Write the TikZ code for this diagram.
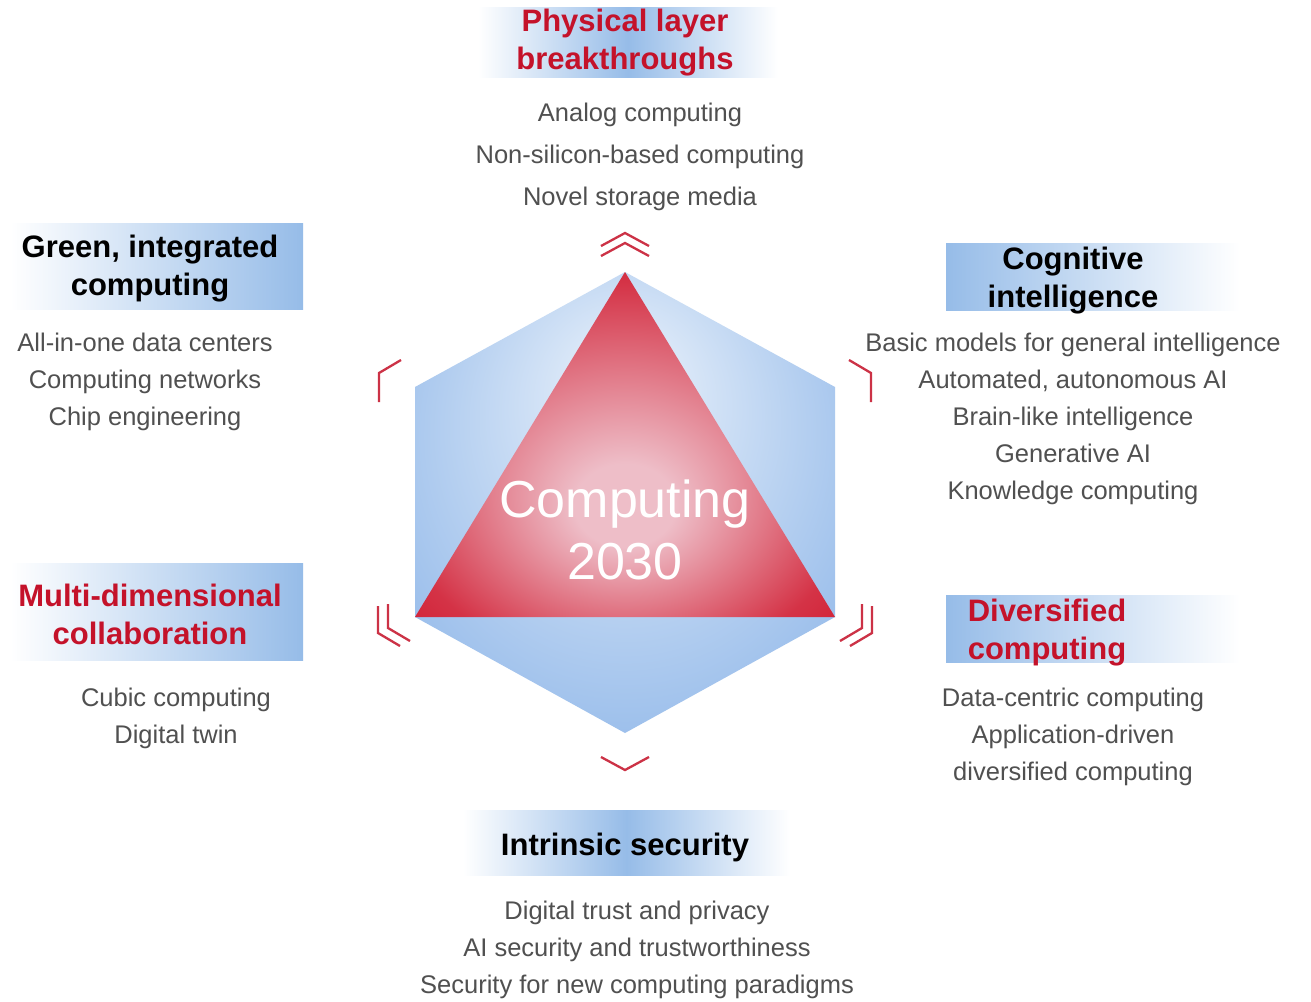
\documentclass[tikz,border=0pt]{standalone}
\usepackage{fontspec}
\setmainfont{Liberation Sans}
\usetikzlibrary{positioning}

\definecolor{hexblue}{RGB}{108,160,226}
\definecolor{hexpale}{RGB}{236,243,251}
\definecolor{trired}{RGB}{206,16,38}
\definecolor{tripink}{RGB}{238,190,200}
\definecolor{boxblue}{RGB}{150,188,232}
\definecolor{titlered}{RGB}{196,18,42}
\definecolor{itemgray}{RGB}{80,80,80}
\definecolor{chevred}{RGB}{204,50,70}

\pgfdeclareradialshading{hexglow}{\pgfpoint{0bp}{14bp}}{color(0bp)=(hexpale); color(22bp)=(hexpale!55!hexblue); color(50bp)=(hexblue)}
\pgfdeclareradialshading{triglow}{\pgfpoint{0bp}{-10bp}}{color(0bp)=(tripink); color(6bp)=(tripink); color(28bp)=(trired!80!tripink); color(42bp)=(trired); color(50bp)=(trired)}

\begin{document}
\begin{tikzpicture}[x=1pt, y=-1pt,
    title/.style={font=\bfseries\fontsize{31}{38}\selectfont, align=center, inner sep=0pt},
    items/.style={font=\fontsize{25.5}{37}\selectfont, text=itemgray, align=center, inner sep=0pt},
    boxL/.style={left color=white, right color=boxblue, inner sep=0pt},
    boxR/.style={left color=boxblue, right color=white, inner sep=0pt},
    boxM/.style={left color=white, right color=white, middle color=boxblue, inner sep=0pt},
    chev/.style={draw=chevred, line width=2.3pt}]

    \fill[white] (0,0) rectangle (1311,1001);
    \useasboundingbox (0,0) rectangle (1311,1001);

    % centre hexagon and triangle
    \shade[shading=hexglow] (625,272) -- (835,387) -- (835,617) -- (625,733) -- (415,617) -- (415,387) -- cycle;
    \shade[shading=triglow] (625,272) -- (835,617) -- (415,617) -- cycle;
    \node[font=\fontsize{52}{62}\selectfont, text=white, align=center, inner sep=0pt] (core) at (625,530) {Computing\\2030};

    % chevrons round the hexagon
    \draw[chev] (601,246) -- (625,233) -- (649,246);
    \draw[chev] (601,256) -- (625,243) -- (649,256);
    \draw[chev] (379,402) -- (379,373) -- (401,360);
    \draw[chev] (871,402) -- (871,373) -- (849,360);
    \draw[chev] (378,606) -- (378,633) -- (400,646);
    \draw[chev] (388,604) -- (388,628) -- (410,641);
    \draw[chev] (872,606) -- (872,633) -- (850,646);
    \draw[chev] (862,604) -- (862,628) -- (840,641);
    \draw[chev] (601,757) -- (625,770) -- (649,757);

    % title boxes
    \node[boxM, minimum width=300pt, minimum height=70pt] (physbox) at (628,42) {};
    \node[boxL, minimum width=293pt, minimum height=86pt] (greenbox) at (156.5,266) {};
    \node[boxR, minimum width=294pt, minimum height=67pt] (cogbox) at (1093,277) {};
    \node[boxL, minimum width=293pt, minimum height=97pt] (multibox) at (156.5,611.5) {};
    \node[boxR, minimum width=294pt, minimum height=67pt] (divbox) at (1093,628.5) {};
    \node[boxM, minimum width=327pt, minimum height=65pt] (secbox) at (626.5,842.5) {};

    % titles
    \node[title, text=titlered] (phys) at (625,43) {Physical layer\\breakthroughs};
    \node[title] (green) at (150,268.5) {Green, integrated\\computing};
    \node[title] (cog) at (1073,280.5) {Cognitive\\intelligence};
    \node[title, text=titlered] (multi) at (150,614) {Multi-dimensional\\collaboration};
    \node[title, text=titlered] (div) at (1047,632.5) {Diversified\\computing};
    \node[title] (sec) at (625,847.5) {Intrinsic security};

    % item lists
    \node[items, font=\fontsize{25.5}{42}\selectfont, below=26pt of phys, xshift=15pt] (physitems)
      {Analog computing\\Non-silicon-based computing\\Novel storage media};
    \node[items, below=31pt of green, xshift=-5pt] (greenitems)
      {All-in-one data centers\\Computing networks\\Chip engineering};
    \node[items, below=19pt of cog] (cogitems)
      {Basic models for general intelligence\\Automated, autonomous AI\\Brain-like intelligence\\Generative AI\\Knowledge computing};
    \node[items, below=43pt of multi, xshift=26pt] (multiitems)
      {Cubic computing\\Digital twin};
    \node[items, below=22pt of div, xshift=26pt] (divitems)
      {Data-centric computing\\Application-driven\\diversified computing};
    \node[items, below=39pt of sec, xshift=12pt] (secitems)
      {Digital trust and privacy\\AI security and trustworthiness\\Security for new computing paradigms};
\end{tikzpicture}
\end{document}
